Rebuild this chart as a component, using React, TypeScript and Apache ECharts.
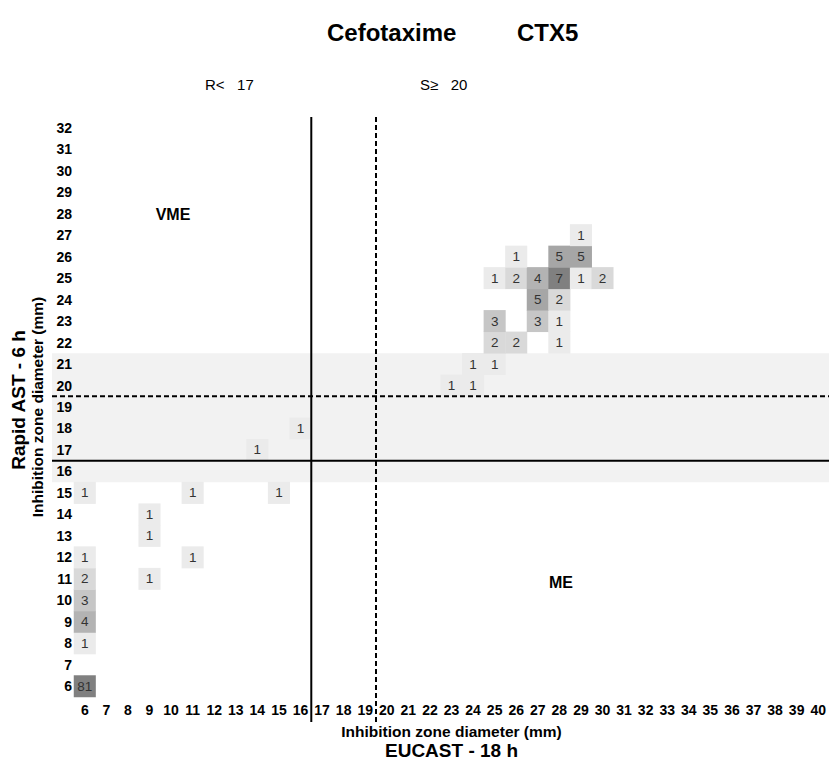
import React, { useEffect, useRef } from "react";
import * as echarts from "echarts";

// EUCAST 18 h inhibition zone diameters (x axis categories, mm)
const xCategories = [
  "6", "7", "8", "9", "10", "11", "12", "13", "14", "15", "16", "17", "18", "19", "20", "21", "22", "23",
  "24", "25", "26", "27", "28", "29", "30", "31", "32", "33", "34", "35", "36", "37", "38", "39", "40",
];
// Rapid AST 6 h inhibition zone diameters (y axis categories, mm)
const yCategories = [
  "6", "7", "8", "9", "10", "11", "12", "13", "14", "15", "16", "17", "18", "19", "20", "21", "22", "23",
  "24", "25", "26", "27", "28", "29", "30", "31", "32",
];

// Cells: EUCAST diameter, rapid AST diameter, number of isolates
const eucastMm = [6, 6, 6, 6, 6, 9, 6, 11, 9, 9, 6, 11, 15, 14, 16, 23, 24, 24, 25, 25, 26, 28, 25, 27, 28, 27, 28, 25, 26, 27, 28, 29, 30, 26, 28, 29, 29];
const rapidMm = [6, 8, 9, 10, 11, 11, 12, 12, 13, 14, 15, 15, 15, 17, 18, 20, 20, 21, 21, 22, 22, 22, 23, 23, 23, 24, 24, 25, 25, 25, 25, 25, 25, 26, 26, 26, 27];
const isolateCounts = [81, 1, 4, 3, 2, 1, 1, 1, 1, 1, 1, 1, 1, 1, 1, 1, 1, 1, 1, 2, 2, 1, 3, 3, 1, 5, 2, 1, 2, 4, 7, 1, 2, 1, 5, 5, 1];

// Breakpoints
const rBreakpoint = 17; // R < 17
const sBreakpoint = 20; // S >= 20
const rapidBandRows = [16, 21]; // shaded rows (inclusive)

const FONT = "'Liberation Sans', Arial, Helvetica, sans-serif";

export default function App() {
  const ref = useRef<HTMLDivElement>(null);

  useEffect(() => {
    if (!ref.current) return;
    const chart = echarts.init(ref.current, undefined, { renderer: "svg" });

    const data = eucastMm.map((x, i) => [String(x), String(rapidMm[i]), isolateCounts[i]]);

    const option: any = {
      animation: false,
      textStyle: { fontFamily: FONT },
      grid: { left: 74, right: 1, top: 117, bottom: 64, containLabel: false },
      xAxis: [
        {
          type: "category",
          data: xCategories,
          axisLine: { show: false },
          axisTick: { show: false },
          splitLine: { show: false },
          axisLabel: { interval: 0, margin: 6, fontSize: 14, fontWeight: "bold", color: "#000", fontFamily: FONT },
          name: "Inhibition zone diameter (mm)",
          nameLocation: "middle",
          nameGap: 26,
          nameTextStyle: { fontSize: 15.5, fontWeight: "bold", color: "#000", fontFamily: FONT },
        },
        { type: "value", min: 5.5, max: 40.5, show: false },
      ],
      yAxis: [
        {
          type: "category",
          data: yCategories,
          axisLine: { show: false },
          axisTick: { show: false },
          splitLine: { show: false },
          axisLabel: { interval: 0, margin: 2, fontSize: 14, fontWeight: "bold", color: "#000", fontFamily: FONT },
          name: "Inhibition zone diameter (mm)",
          nameLocation: "middle",
          nameRotate: 90,
          nameGap: 24,
          nameTextStyle: { fontSize: 15.5, fontWeight: "bold", color: "#000", fontFamily: FONT },
        },
        { type: "value", min: 5.5, max: 32.5, show: false },
      ],
      visualMap: {
        type: "piecewise",
        show: false,
        dimension: 2,
        seriesIndex: 0,
        pieces: [
          { value: 1, color: "#ebebeb" },
          { value: 2, color: "#d9d9d9" },
          { value: 3, color: "#c6c6c6" },
          { value: 4, color: "#b3b3b3" },
          { value: 5, color: "#a6a6a6" },
          { min: 6, color: "#808080" },
        ],
      },
      series: [
        {
          type: "heatmap",
          xAxisIndex: 0,
          yAxisIndex: 0,
          data,
          z: 2,
          label: { show: true, fontSize: 13.5, color: "#333", fontFamily: FONT },
          emphasis: { disabled: true },
        },
        {
          type: "scatter",
          xAxisIndex: 1,
          yAxisIndex: 1,
          data: [],
          silent: true,
        },
      ],
    };
    chart.setOption(option);

    const px = (v: number) => chart.convertToPixel({ xAxisIndex: 1 }, v) as number;
    const py = (v: number) => chart.convertToPixel({ yAxisIndex: 1 }, v) as number;

    const gridLeftX = px(5.5);
    const gridRightX = px(40.5);
    const gridTopY = py(32.5);
    const lineLeftX = gridLeftX - 22;
    const lineBottomY = py(5.5) + 25;

    const xR = px(rBreakpoint - 0.5);
    const xS = px(sBreakpoint - 0.5);
    const yR = py(rBreakpoint - 0.5);
    const yS = py(sBreakpoint - 0.5);
    const bandTop = py(rapidBandRows[1] + 0.5);
    const bandBottom = py(rapidBandRows[0] - 0.5);

    const solid = { stroke: "#000", lineWidth: 2 };
    const dashed = { stroke: "#000", lineWidth: 2, lineDash: [5, 3] };

    chart.setOption({
      graphic: [
        {
          type: "rect",
          z: -10,
          silent: true,
          shape: { x: lineLeftX, y: bandTop, width: gridRightX - lineLeftX, height: bandBottom - bandTop },
          style: { fill: "#f2f2f2" },
        },
        { type: "line", z: 100, silent: true, shape: { x1: xR, y1: gridTopY, x2: xR, y2: lineBottomY }, style: solid },
        { type: "line", z: 100, silent: true, shape: { x1: xS, y1: gridTopY, x2: xS, y2: lineBottomY }, style: dashed },
        { type: "line", z: 100, silent: true, shape: { x1: lineLeftX, y1: yR, x2: gridRightX, y2: yR }, style: solid },
        { type: "line", z: 100, silent: true, shape: { x1: lineLeftX, y1: yS, x2: gridRightX, y2: yS }, style: dashed },
        {
          type: "text", left: 327, top: 20,
          style: { text: "Cefotaxime", font: `bold 24px ${FONT}`, fill: "#000" },
        },
        {
          type: "text", left: 517, top: 20,
          style: { text: "CTX5", font: `bold 24px ${FONT}`, fill: "#000" },
        },
        {
          type: "text", left: 205, top: 77,
          style: { text: "R<\u00a0\u00a0\u00a017", font: `15px ${FONT}`, fill: "#000" },
        },
        {
          type: "text", left: 420, top: 77,
          style: { text: "S\u2265\u00a0\u00a0\u00a020", font: `15px ${FONT}`, fill: "#000" },
        },
        {
          type: "text", x: 173, y: 214,
          style: { text: "VME", font: `bold 16px ${FONT}`, fill: "#000", align: "center", verticalAlign: "middle" },
        },
        {
          type: "text", x: 561, y: 582,
          style: { text: "ME", font: `bold 16px ${FONT}`, fill: "#000", align: "center", verticalAlign: "middle" },
        },
        {
          type: "text", x: (gridLeftX + gridRightX) / 2, y: 750,
          style: { text: "EUCAST - 18 h", font: `bold 19px ${FONT}`, fill: "#000", align: "center", verticalAlign: "middle" },
        },
        {
          type: "text", x: 18, y: 400, rotation: Math.PI / 2,
          style: { text: "Rapid AST - 6 h", font: `bold 19px ${FONT}`, fill: "#000", align: "center", verticalAlign: "middle" },
        },
      ],
    });

    return () => chart.dispose();
  }, []);

  return <div ref={ref} style={{ position: "absolute", left: 0, top: 0, width: 830, height: 761 }} />;
}
